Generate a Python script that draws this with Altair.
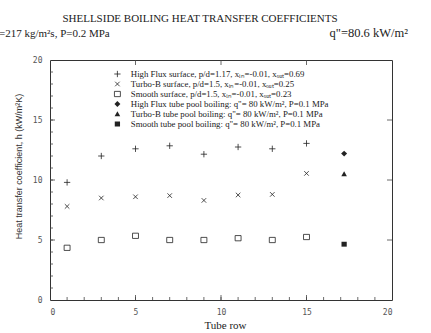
import altair as alt
import pandas as pd

# ---- data ----
rows = [1, 3, 5, 7, 9, 11, 13, 15]
h_highflux = [9.8, 12.0, 12.6, 12.85, 12.15, 12.75, 12.6, 13.05]
h_turbob = [7.8, 8.5, 8.6, 8.7, 8.3, 8.75, 8.8, 10.55]
h_smooth = [4.35, 5.0, 5.35, 5.0, 5.0, 5.15, 5.0, 5.25]
pool_row = [17.2, 17.2, 17.2]
h_pool = [12.2, 10.5, 4.65]

surf_labels = [
    "High Flux surface, p/d=1.17, xᵢₙ=-0.01, xₒᵤₜ=0.69",
    "Turbo-B surface, p/d=1.5,  xᵢₙ=-0.01, xₒᵤₜ=0.25",
    "Smooth surface, p/d=1.5, xᵢₙ=-0.01, xₒᵤₜ=0.23",
]
pool_labels = [
    'High Flux tube pool boiling: q"= 80 kW/m², P=0.1 MPa',
    'Turbo-B tube pool boiling: q"= 80 kW/m², P=0.1 MPa',
    'Smooth tube pool boiling: q"= 80 kW/m², P=0.1 MPa',
]
title_text = "SHELLSIDE BOILING HEAT TRANSFER COEFFICIENTS"
left_note = "=217 kg/m²s, P=0.2 MPa"
right_note = 'q"=80.6 kW/m²'
x_title = "Tube row"
y_title = "Heat transfer coefficient, h (kW/m²K)"
x_ticks = [0, 5, 10, 15, 20]
y_ticks = [0, 5, 10, 15, 20]
minor = list(range(1, 20))
major = [5, 10, 15]

# ---- tables ----
df_s = pd.DataFrame({
    "row": rows * 3,
    "h": h_highflux + h_turbob + h_smooth,
    "series": [surf_labels[0]] * len(rows) + [surf_labels[1]] * len(rows) + [surf_labels[2]] * len(rows),
})
df_p = pd.DataFrame({"row": pool_row, "h": h_pool, "series": pool_labels})
df_minor = pd.DataFrame({"row": minor, "h": minor})
df_major = pd.DataFrame({"row": major, "h": major})

W, H = 342, 240
xscale = alt.Scale(domain=[0, 20], nice=False, zero=False)
yscale = alt.Scale(domain=[0, 20], nice=False, zero=False)

label_font = "DejaVu Sans Mono"

X = alt.X("row:Q", scale=xscale, axis=alt.Axis(
    values=x_ticks, format="d", title=x_title, titleFont="Liberation Serif",
    titleFontSize=11, titleFontWeight="normal", titleColor="#222",
    titleX=175, titleY=28, titleBaseline="alphabetic", titleAnchor="middle",
    labelFont=label_font, labelFontSize=8, labelColor="#555", labelPadding=8,
    ticks=False, domain=False, grid=False))
Y = alt.Y("h:Q", scale=yscale, axis=alt.Axis(
    values=y_ticks, format="d", title=y_title, titleFont="Liberation Sans",
    titleFontSize=9, titleFontWeight="normal", titleColor="#333",
    titleX=-32, titleY=106, titleAngle=270, titleAlign="center", titleBaseline="middle",
    labelFont=label_font, labelFontSize=8, labelColor="#555", labelPadding=8,
    ticks=False, domain=False, grid=False))

plus = "M-0.9,0H0.9M0,-0.9V0.9"
cross = "M-0.65,-0.65L0.65,0.65M-0.65,0.65L0.65,-0.65"
sq_open = "M-0.85,-0.75H0.85V0.75H-0.85Z"
diamond = "M0,-0.85L0.85,0L0,0.85L-0.85,0Z"
tri = "M0,-0.8L0.8,0.65L-0.8,0.65Z"
sq_fill = "M-0.75,-0.7H0.75V0.7H-0.75Z"

leg_common = dict(orient="none", title=None, labelFont="Liberation Serif",
                  labelFontSize=8.8, labelColor="#222", symbolSize=49,
                  rowPadding=0, clipHeight=9, labelOffset=9, padding=0,
                  labelLimit=300, symbolStrokeColor="#222", symbolStrokeWidth=0.8)

surf = alt.Chart(df_s).mark_point(filled=False, color="#222", strokeWidth=0.8, size=49, opacity=1).encode(
    x=X, y=Y,
    shape=alt.Shape("series:N", scale=alt.Scale(domain=surf_labels, range=[plus, cross, sq_open]),
                    legend=alt.Legend(legendX=63, legendY=9.5, **leg_common)),
)
pool = alt.Chart(df_p).mark_point(filled=True, color="#222", size=49, opacity=1).encode(
    x=X, y=Y,
    shape=alt.Shape("series:N", scale=alt.Scale(domain=pool_labels, range=[diamond, tri, sq_fill]),
                    legend=alt.Legend(legendX=63, legendY=39.5, **leg_common)),
)

tick_col = "#444"
bot_minor = alt.Chart(df_minor).mark_rule(color=tick_col, strokeWidth=0.8).encode(
    x=X, y=alt.value(H), y2=alt.value(H - 3))
bot_major = alt.Chart(df_major).mark_rule(color=tick_col, strokeWidth=0.8).encode(
    x=X, y=alt.value(H), y2=alt.value(H - 5))
top_major = alt.Chart(df_major).mark_rule(color=tick_col, strokeWidth=0.8).encode(
    x=X, y=alt.value(0), y2=alt.value(5))
left_minor = alt.Chart(df_minor).mark_rule(color=tick_col, strokeWidth=0.8).encode(
    y=Y, x=alt.value(0), x2=alt.value(3))
left_major = alt.Chart(df_major).mark_rule(color=tick_col, strokeWidth=0.8).encode(
    y=Y, x=alt.value(0), x2=alt.value(5))
right_major = alt.Chart(df_major).mark_rule(color=tick_col, strokeWidth=0.8).encode(
    y=Y, x=alt.value(W), x2=alt.value(W - 5))

title = alt.Chart(pd.DataFrame({"t": [title_text]})).mark_text(
    font="Liberation Serif", fontSize=11, color="#222", align="center", baseline="alphabetic"
).encode(text="t:N", x=alt.value(150), y=alt.value(-38))
lnote = alt.Chart(pd.DataFrame({"t": [left_note]})).mark_text(
    font="Liberation Serif", fontSize=11, color="#222", align="left", baseline="alphabetic"
).encode(text="t:N", x=alt.value(-51), y=alt.value(-23))
rnote = alt.Chart(pd.DataFrame({"t": [right_note]})).mark_text(
    font="Liberation Serif", fontSize=12.5, color="#222", align="right", baseline="alphabetic"
).encode(text="t:N", x=alt.value(358), y=alt.value(-23))

chart = alt.layer(
    bot_minor, bot_major, top_major, left_minor, left_major, right_major,
    surf, pool, title, lnote, rnote
).resolve_scale(shape="independent").properties(
    width=W, height=H,
    autosize=alt.AutoSizeParams(type="none"),
    padding={"left": 50, "top": 60, "right": 39, "bottom": 33},
    background="white",
).configure_view(stroke="#333", strokeWidth=1)

chart.save("out.html", embed_options={"renderer": "svg", "actions": False})
